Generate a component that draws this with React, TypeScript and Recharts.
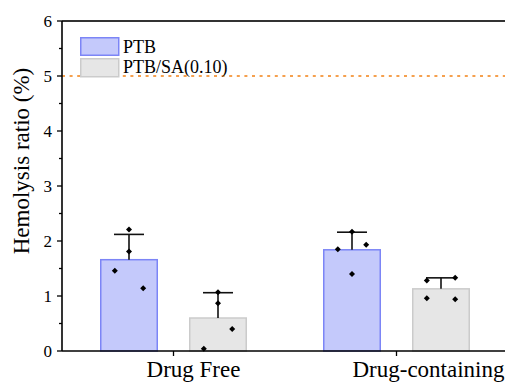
import React from 'react';
import { ComposedChart, Bar, XAxis, YAxis, ReferenceLine, Legend } from 'recharts';

// Groups on the x axis
const categories = ['Drug Free', 'Drug-containing'];

// Mean hemolysis ratio (%) and standard deviation per group
const ptbMean = [1.66, 1.84];
const ptbSd = [0.46, 0.32];
const ptbSaMean = [0.6, 1.13];
const ptbSaSd = [0.46, 0.2];

// Individual replicate measurements (%)
const ptbReplicates = [
  [1.46, 2.21, 1.81, 1.14],
  [1.85, 2.17, 1.93, 1.4],
];
const ptbSaReplicates = [
  [0.04, 1.07, 0.87, 0.4],
  [0.96, 1.28, 1.33, 0.94],
];

// Horizontal jitter slot (-1 left, 0 centre, 1 right) of each replicate dot
const ptbSlots = [
  [-1, 0, 0, 1],
  [-1, 0, 1, 0],
];
const ptbSaSlots = [
  [-1, 0, 0, 1],
  [-1, -1, 1, 1],
];

// Y axis ticks (labels only on whole numbers)
const yTicks = [0, 0.5, 1, 1.5, 2, 2.5, 3, 3.5, 4, 4.5, 5, 5.5, 6];
const hemolysisLimit = 5;

const seriesNames = ['PTB', 'PTB/SA(0.10)'];

const data = categories.map((name, i) => ({
  name,
  ptb: ptbMean[i],
  ptbSa: ptbSaMean[i],
}));

const FONT = '"Liberation Serif", "Times New Roman", Times, serif';
const BLUE_FILL = '#c4c9fb';
const BLUE_STROKE = '#7c85f6';
const GRAY_FILL = '#e6e6e6';
const GRAY_STROKE = '#cbcbcb';

// x shift of each category label relative to its tick
const labelShift = [20, 32];

const makeBarShape = (
  fill: string,
  stroke: string,
  sds: number[],
  replicates: number[][],
  slots: number[][]
) => (props: any) => {
  const { x, y, width, height, value, index } = props;
  const v = Array.isArray(value) ? value[1] - value[0] : value;
  const pxPerUnit = v ? height / v : 0;
  const base = y + height;
  const cx = x + width / 2;
  const errTop = y - sds[index] * pxPerUnit;
  const slotStep = width * 0.245;
  return (
    <g>
      <rect
        x={x + 0.75}
        y={y}
        width={width - 1.5}
        height={height}
        fill={fill}
        stroke={stroke}
        strokeWidth={1.5}
      />
      <line x1={cx} x2={cx} y1={y} y2={errTop} stroke="#111" strokeWidth={1.6} />
      <line x1={cx - 15} x2={cx + 15} y1={errTop} y2={errTop} stroke="#111" strokeWidth={1.6} />
      {replicates[index].map((r, k) => {
        const px = cx + slots[index][k] * slotStep;
        const py = base - r * pxPerUnit;
        return (
          <path
            key={k}
            d={`M${px},${py - 3} L${px + 3},${py} L${px},${py + 3} L${px - 3},${py} Z`}
            fill="#000"
          />
        );
      })}
    </g>
  );
};

const YTick = (props: any) => {
  const { x, y, payload } = props;
  const v = payload.value as number;
  const major = Number.isInteger(v);
  return (
    <g>
      <line x1={x - (major ? 5 : 3)} x2={x} y1={y} y2={y} stroke="#000" strokeWidth={1.3} />
      {major && (
        <text
          x={x - 10}
          y={y}
          dy="0.34em"
          textAnchor="end"
          style={{ fontFamily: FONT, fontSize: 17 }}
          fill="#000"
        >
          {v}
        </text>
      )}
    </g>
  );
};

const XTick = (props: any) => {
  const { x, y, payload, index } = props;
  return (
    <g>
      <line x1={x} x2={x} y1={y} y2={y + 5} stroke="#000" strokeWidth={1.3} />
      <text
        x={x + labelShift[index]}
        y={y + 26}
        textAnchor="middle"
        style={{ fontFamily: FONT, fontSize: 23 }}
        fill="#000"
      >
        {payload.value}
      </text>
    </g>
  );
};

const YLabel = (props: any) => {
  const vb = props.viewBox || { x: 0, y: 21, width: 62, height: 330 };
  const cx = vb.x + 29;
  const cy = vb.y + vb.height / 2 - 25;
  return (
    <text
      x={cx}
      y={cy}
      transform={`rotate(-90, ${cx}, ${cy})`}
      textAnchor="middle"
      style={{ fontFamily: FONT, fontSize: 23 }}
      fill="#000"
    >
      Hemolysis ratio (%)
    </text>
  );
};

const LegendBox = () => (
  <svg width={170} height={44} style={{ display: 'block', overflow: 'visible' }}>
    <rect x={0.75} y={0.75} width={38} height={17.5} fill={BLUE_FILL} stroke={BLUE_STROKE} strokeWidth={1.5} />
    <text x={43} y={16} style={{ fontFamily: FONT, fontSize: 18 }} fill="#000">
      {seriesNames[0]}
    </text>
    <rect x={0.75} y={21.75} width={38} height={18} fill={GRAY_FILL} stroke={GRAY_STROKE} strokeWidth={1.5} />
    <text x={43} y={36} style={{ fontFamily: FONT, fontSize: 18 }} fill="#000">
      {seriesNames[1]}
    </text>
  </svg>
);

export default function App() {
  return (
    <div style={{ position: 'fixed', left: 0, top: 0, width: 505, height: 383, overflow: 'hidden', background: '#fff' }}>
      <ComposedChart
        width={520}
        height={383}
        data={data}
        margin={{ top: 21, right: 12, bottom: 0, left: 0 }}
        barSize={58}
        barGap={31}
      >
        <XAxis
          dataKey="name"
          height={32}
          tickLine={false}
          tickSize={0}
          tickMargin={0}
          axisLine={{ stroke: '#000', strokeWidth: 1.6 }}
          tick={<XTick />}
          interval={0}
        />
        <YAxis
          width={62}
          domain={[0, 6]}
          ticks={yTicks}
          interval={0}
          tickLine={false}
          tickSize={0}
          tickMargin={0}
          axisLine={{ stroke: '#000', strokeWidth: 1.6 }}
          tick={<YTick />}
          label={{ content: <YLabel /> }}
        />
        <ReferenceLine y={6} stroke="#333" strokeWidth={2} ifOverflow="visible" />
        <ReferenceLine
          y={hemolysisLimit}
          stroke="#f5a04e"
          strokeWidth={2}
          strokeDasharray="3 4.6"
          ifOverflow="visible"
        />
        <Legend
          layout="vertical"
          align="center"
          verticalAlign="middle"
          wrapperStyle={{ left: 80, top: 37, width: 170, height: 44 }}
          content={<LegendBox />}
        />
        <Bar
          dataKey="ptb"
          name={seriesNames[0]}
          fill={BLUE_FILL}
          isAnimationActive={false}
          shape={makeBarShape(BLUE_FILL, BLUE_STROKE, ptbSd, ptbReplicates, ptbSlots)}
        />
        <Bar
          dataKey="ptbSa"
          name={seriesNames[1]}
          fill={GRAY_FILL}
          isAnimationActive={false}
          shape={makeBarShape(GRAY_FILL, GRAY_STROKE, ptbSaSd, ptbSaReplicates, ptbSaSlots)}
        />
      </ComposedChart>
    </div>
  );
}
